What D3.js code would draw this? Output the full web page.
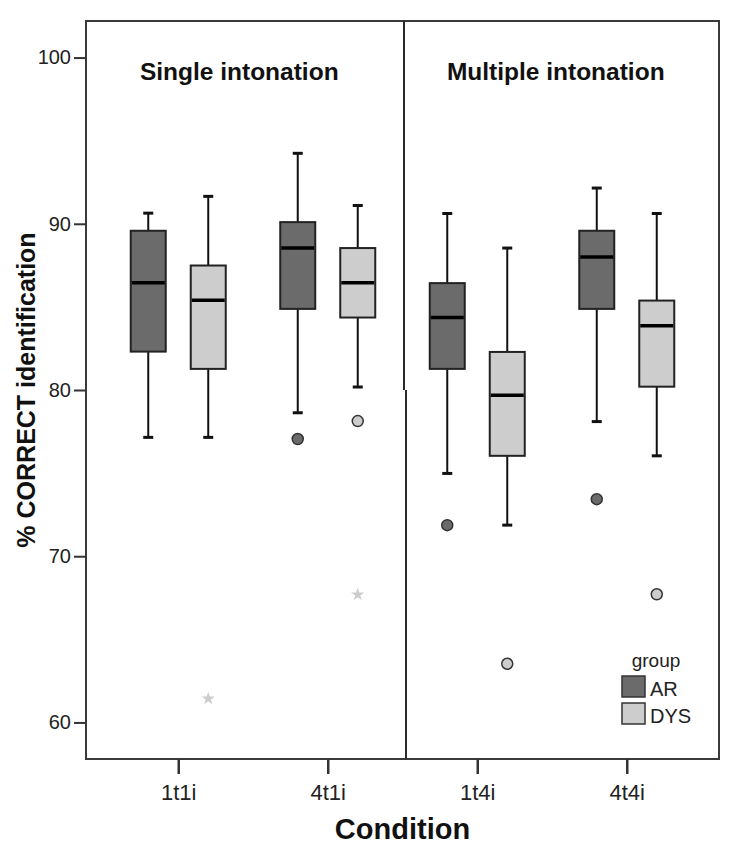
<!DOCTYPE html>
<html><head><meta charset="utf-8">
<script src="https://cdn.jsdelivr.net/npm/d3@7/dist/d3.min.js"></script>
<style>body{margin:0;background:#fff;}svg{display:block;font-family:"Liberation Sans",Arial,sans-serif;}</style>
</head><body><svg id="c" width="748" height="868"></svg>
<script>
const conditions = ["1t1i", "4t1i", "1t4i", "4t4i"];
const groups = ["AR", "DYS"];
const panels = ["Single intonation", "Multiple intonation"];
const yTicks = [60, 70, 80, 90, 100];

const arLow    = [77.15, 78.63, 74.98, 78.10];
const arQ1     = [82.31, 84.88, 81.27, 84.88];
const arMedian = [86.45, 88.54, 84.36, 88.00];
const arQ3     = [89.58, 90.10, 86.43, 89.58];
const arHigh   = [90.64, 94.24, 90.62, 92.15];

const dysLow    = [77.15, 80.18, 71.87, 76.04];
const dysQ1     = [81.27, 84.36, 76.04, 80.20];
const dysMedian = [85.40, 86.45, 79.68, 83.86];
const dysQ3     = [87.49, 88.54, 82.29, 85.38];
const dysHigh   = [91.65, 91.10, 88.54, 90.62];

// outliers: [condition, group, value, kind]
const outlierCond  = ["4t1i", "1t4i", "4t4i", "1t1i", "4t1i", "4t1i", "1t4i", "4t4i"];
const outlierGroup = ["AR", "AR", "AR", "DYS", "DYS", "DYS", "DYS", "DYS"];
const outlierValue = [77.05, 71.87, 73.43, 61.43, 78.13, 67.69, 63.53, 67.71];
const outlierKind  = ["circle", "circle", "circle", "star", "circle", "star", "circle", "circle"];

const colors = {AR: "#6b6b6b", DYS: "#cdcdcd"};

const svg = d3.select("#c");
const L = 86, R = 719, T = 21, B = 759;

const x = d3.scalePoint().domain(conditions).range([L, R]).padding(0.617);
const gx = d3.scalePoint().domain(groups).range([-30, 30]);
const y = d3.scaleLinear().domain([57.8, 102.2]).range([B, T]);
const boxW = 35, capW = 10;

const stats = {
  AR: conditions.map((c, i) => ({c, g: "AR", lo: arLow[i], q1: arQ1[i], med: arMedian[i], q3: arQ3[i], hi: arHigh[i]})),
  DYS: conditions.map((c, i) => ({c, g: "DYS", lo: dysLow[i], q1: dysQ1[i], med: dysMedian[i], q3: dysQ3[i], hi: dysHigh[i]}))
};
const all = stats.AR.concat(stats.DYS);

// frame
const midX = (x("4t1i") + x("1t4i")) / 2;
svg.append("rect").attr("x", L).attr("y", T).attr("width", R - L).attr("height", B - T)
  .attr("fill", "none").attr("stroke", "#3a3a3a").attr("stroke-width", 2);
svg.append("line").attr("x1", midX + 1.5).attr("x2", midX + 1.5).attr("y1", T).attr("y2", y(80))
  .attr("stroke", "#2a2a2a").attr("stroke-width", 2);
svg.append("line").attr("x1", midX + 3.5).attr("x2", midX + 3.5).attr("y1", y(80)).attr("y2", B)
  .attr("stroke", "#2a2a2a").attr("stroke-width", 2);

// panel titles
svg.selectAll("text.panel").data(panels).enter().append("text").attr("class", "panel")
  .attr("x", (d, i) => i === 0 ? (L + midX) / 2 - 5 : (midX + R) / 2 - 5)
  .attr("y", 80).attr("text-anchor", "middle").attr("font-weight", "bold")
  .attr("font-size", 24.5).attr("fill", "#111").text(d => d);

// whiskers
const gBox = svg.append("g");
gBox.selectAll("line.wh").data(all).enter().append("line").attr("class", "wh")
  .attr("x1", d => x(d.c) + gx(d.g)).attr("x2", d => x(d.c) + gx(d.g))
  .attr("y1", d => y(d.lo)).attr("y2", d => y(d.hi))
  .attr("stroke", "#111").attr("stroke-width", 2);
["lo", "hi"].forEach(k => {
  gBox.selectAll("line.cap" + k).data(all).enter().append("line")
    .attr("x1", d => x(d.c) + gx(d.g) - capW / 2).attr("x2", d => x(d.c) + gx(d.g) + capW / 2)
    .attr("y1", d => y(d[k])).attr("y2", d => y(d[k]))
    .attr("stroke", "#111").attr("stroke-width", 3);
});
// boxes
gBox.selectAll("rect.box").data(all).enter().append("rect")
  .attr("x", d => x(d.c) + gx(d.g) - boxW / 2).attr("width", boxW)
  .attr("y", d => y(d.q3)).attr("height", d => y(d.q1) - y(d.q3))
  .attr("fill", d => colors[d.g]).attr("stroke", "#222").attr("stroke-width", 2);
gBox.selectAll("line.med").data(all).enter().append("line")
  .attr("x1", d => x(d.c) + gx(d.g) - boxW / 2 + 1).attr("x2", d => x(d.c) + gx(d.g) + boxW / 2 - 1)
  .attr("y1", d => y(d.med)).attr("y2", d => y(d.med))
  .attr("stroke", "#000").attr("stroke-width", 3.5);

// outliers
const outs = outlierValue.map((v, i) => ({c: outlierCond[i], g: outlierGroup[i], v, k: outlierKind[i]}));
svg.selectAll("circle.out").data(outs.filter(d => d.k === "circle")).enter().append("circle")
  .attr("cx", d => x(d.c) + gx(d.g)).attr("cy", d => y(d.v)).attr("r", 5.5)
  .attr("fill", d => colors[d.g]).attr("stroke", "#333").attr("stroke-width", 1.5);
const star = d3.symbol().type(d3.symbolStar).size(55);
svg.selectAll("path.star").data(outs.filter(d => d.k === "star")).enter().append("path")
  .attr("transform", d => `translate(${x(d.c) + gx(d.g)},${y(d.v)})`)
  .attr("d", star).attr("fill", "#cccccc");

// axes
const yAxis = svg.append("g").attr("transform", `translate(${L},0)`)
  .call(d3.axisLeft(y).tickValues(yTicks).tickSize(12).tickPadding(3).tickFormat(d3.format("d")));
yAxis.select(".domain").remove();
yAxis.selectAll("line").attr("stroke", "#333").attr("stroke-width", 2);
yAxis.selectAll("text").attr("font-size", 20).attr("fill", "#222").attr("font-family", "Liberation Sans, Arial, sans-serif");

const xAxis = svg.append("g").attr("transform", `translate(0,${B})`)
  .call(d3.axisBottom(x).tickSize(15).tickPadding(10));
xAxis.select(".domain").remove();
xAxis.selectAll("line").attr("stroke", "#333").attr("stroke-width", 2.5);
xAxis.selectAll("text").attr("font-size", 22).attr("fill", "#222").attr("font-family", "Liberation Sans, Arial, sans-serif");

// axis titles
svg.append("text").attr("transform", `translate(35,${(T + B) / 2}) rotate(-90)`)
  .attr("text-anchor", "middle").attr("font-weight", "bold").attr("font-size", 25).attr("fill", "#111")
  .text("% CORRECT identification");
svg.append("text").attr("x", (L + R) / 2).attr("y", 839)
  .attr("text-anchor", "middle").attr("font-weight", "bold").attr("font-size", 29).attr("fill", "#111")
  .text("Condition");

// legend
const lg = svg.append("g").attr("transform", "translate(622,0)");
lg.append("text").attr("x", 34).attr("y", 667).attr("text-anchor", "middle")
  .attr("font-size", 19).attr("fill", "#222").text("group");
lg.selectAll("rect").data(groups).enter().append("rect")
  .attr("x", 0).attr("y", (d, i) => 676 + i * 27).attr("width", 23).attr("height", 21)
  .attr("fill", d => colors[d]).attr("stroke", "#333").attr("stroke-width", 1.5);
lg.selectAll("text.lab").data(groups).enter().append("text").attr("class", "lab")
  .attr("x", 28).attr("y", (d, i) => 696 + i * 27)
  .attr("font-size", 20).attr("fill", "#222").text(d => d);
</script></body></html>
